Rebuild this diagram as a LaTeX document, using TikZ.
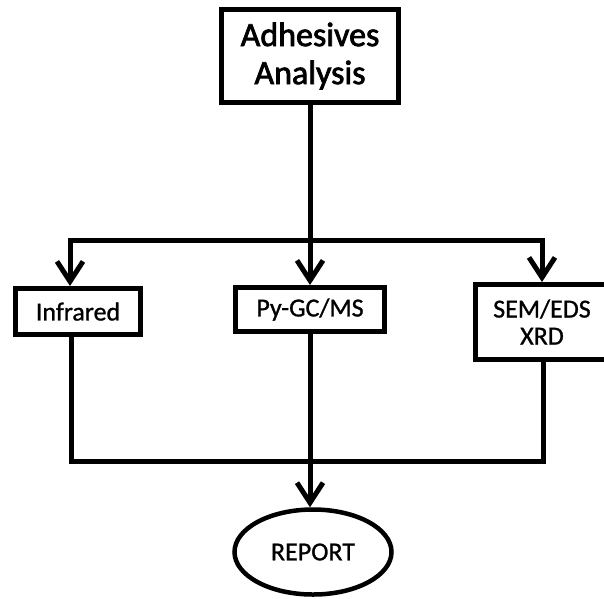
\documentclass[tikz,border=0pt]{standalone}
\usepackage{fontspec}
\setmainfont{Carlito}
\newfontfamily\titlefont{Carlito}[FakeBold=2.2]
\newfontfamily\labelfont{Carlito}[FakeBold=1.0]
\usetikzlibrary{arrows.meta,shapes.geometric}
\tikzset{
  box/.style={draw, line width=5pt, inner sep=0pt, align=center, font=\labelfont\fontsize{26}{27}\selectfont},
  titlebox/.style={box, font=\titlefont\fontsize{34}{38}\selectfont},
  oval/.style={draw, ellipse, line width=4.5pt, inner sep=0pt, font=\labelfont\fontsize{26}{27}\selectfont},
  conn/.style={line width=5pt},
  arr/.style={conn, -{Straight Barb[length=20pt,width=26pt]}},
  barr/.style={conn, {Straight Barb[length=20pt,width=26pt]}-{Straight Barb[length=20pt,width=26pt]}}
}
\begin{document}
\begin{tikzpicture}[x=1pt,y=-1pt]
\useasboundingbox (0,0) rectangle (604,598);
\node[titlebox, minimum width=177pt, minimum height=93pt] (main) at (310,56) {Adhesives\\Analysis};
\node[box, minimum width=125pt, minimum height=46pt] (inf) at (78,311.5) {Infrared};
\node[box, minimum width=149pt, minimum height=44pt] (py) at (310,309.5) {Py-GC/MS};
\node[box, minimum width=133pt, minimum height=75pt] (sem) at (542,322) {SEM/EDS\\XRD};
\node[oval, minimum width=157pt, minimum height=85pt] (rep) at (313,552) {REPORT};
\coordinate (jl) at (70,240);
\coordinate (jr) at (542,240);
\coordinate (bl) at (71,461);
\coordinate (br) at (543,461);
\draw[barr] (jl |- inf.north) -- (jl) -- (jr) -- (jr |- sem.north);
\draw[arr] (main.south) -- (py.north);
\draw[conn] (bl |- inf.south) -- (bl) -- (br) -- (br |- sem.south);
\draw[arr] (py.south) -- (py.south |- rep.north);
\end{tikzpicture}
\end{document}
